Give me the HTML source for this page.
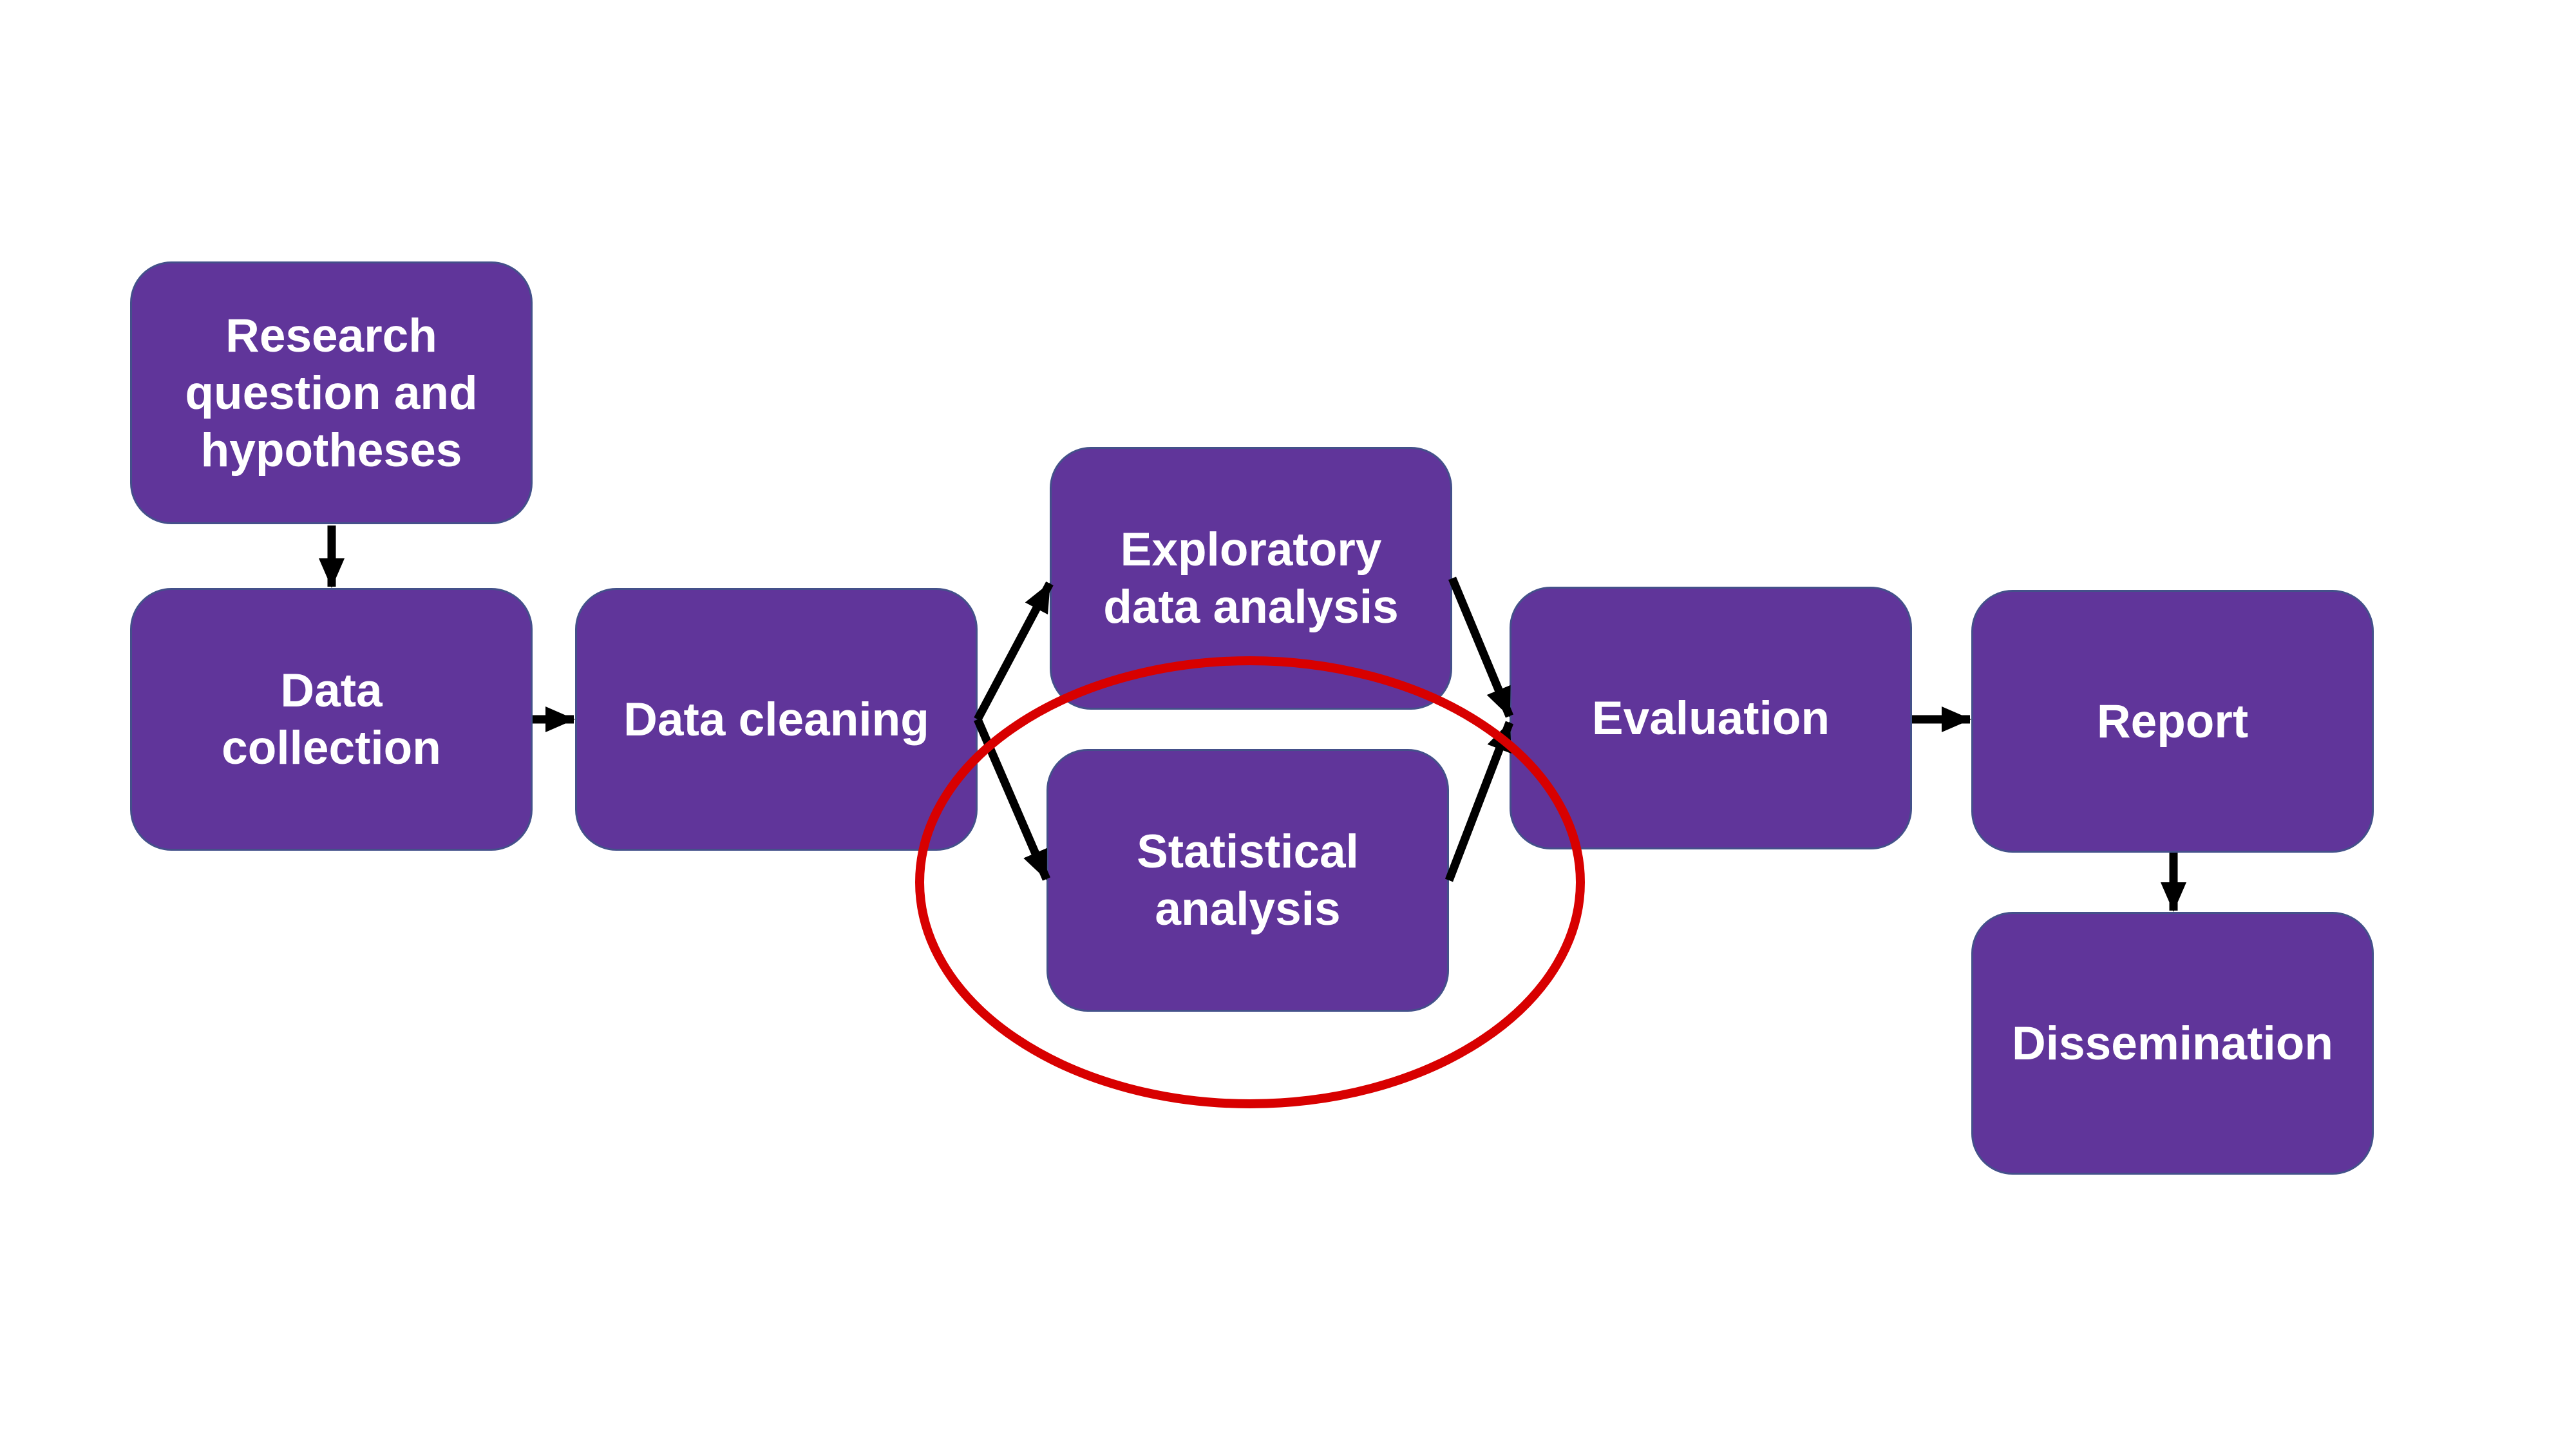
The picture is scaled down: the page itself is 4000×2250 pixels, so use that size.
<!DOCTYPE html>
<html><head><meta charset="utf-8"><style>
html,body{margin:0;padding:0;background:#fff;}
#c{position:relative;width:4000px;height:2250px;overflow:hidden;background:#fff;}
.b{position:absolute;width:625px;height:408px;background:#60359a;border:3px solid #44508a;box-sizing:border-box;border-radius:64px;display:flex;align-items:center;justify-content:center;text-align:center;color:#fff;font-family:"Liberation Sans",Arial,sans-serif;font-weight:bold;font-size:73px;line-height:89px;}
svg{position:absolute;left:0;top:0;}
</style></head><body><div id="c">
<div class="b" style="left:202px;top:406px;">Research<br>question and<br>hypotheses</div>
<div class="b" style="left:202px;top:913px;">Data<br>collection</div>
<div class="b" style="left:893px;top:913px;">Data cleaning</div>
<div class="b" style="left:1630px;top:694px;">Exploratory<br>data analysis</div>
<div class="b" style="left:1625px;top:1163px;">Statistical<br>analysis</div>
<div class="b" style="left:2344px;top:911px;">Evaluation</div>
<div class="b" style="left:3061px;top:916px;">Report</div>
<div class="b" style="left:3061px;top:1416px;">Dissemination</div>
<svg width="4000" height="2250" viewBox="0 0 4000 2250">
<defs><marker id="a" markerUnits="userSpaceOnUse" markerWidth="48" markerHeight="44" refX="44" refY="22" orient="auto"><path d="M0,2 L46,22 L0,42 Z" fill="#000"/></marker></defs>
<g stroke="#000" stroke-width="13" fill="none" marker-end="url(#a)">
<line x1="515" y1="816" x2="515" y2="911"/>
<line x1="827" y1="1117" x2="891" y2="1117"/>
<line x1="1518" y1="1117" x2="1630" y2="906"/>
<line x1="1518" y1="1117" x2="1625" y2="1365"/>
<line x1="2255" y1="898" x2="2344" y2="1112"/>
<line x1="2250" y1="1367" x2="2344" y2="1122"/>
<line x1="2969" y1="1117" x2="3059" y2="1117"/>
<line x1="3375" y1="1324" x2="3375" y2="1414"/>
</g>
<ellipse cx="1941" cy="1370" rx="513" ry="344" fill="none" stroke="#d80000" stroke-width="14"/>
</svg>
</div></body></html>
